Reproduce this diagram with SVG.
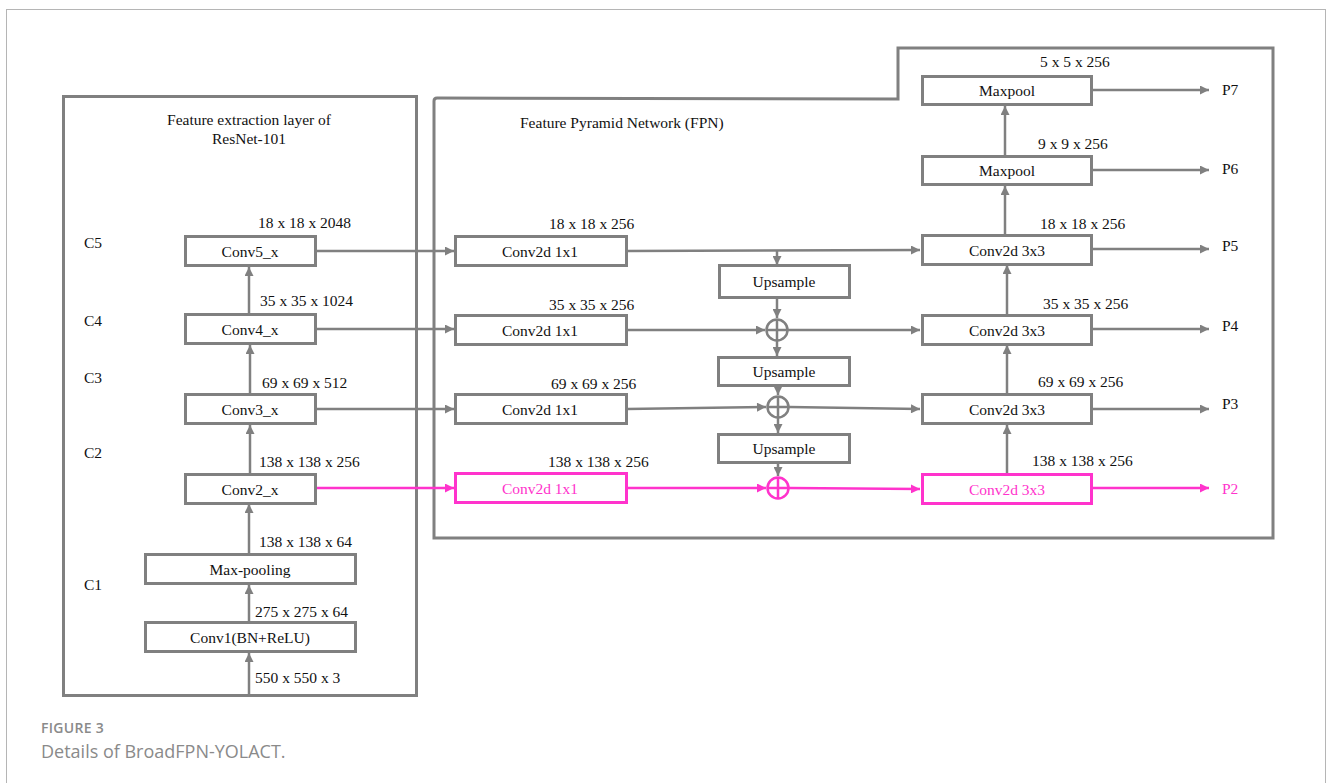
<svg xmlns="http://www.w3.org/2000/svg" width="1330" height="783" viewBox="0 0 1330 783">
<defs>
<style>
.t{font-family:"Liberation Serif","Times New Roman",serif;font-size:15.5px;fill:#111}
.c{text-anchor:middle}
.pk{fill:#ff33cc}
.box{fill:#fff;stroke:#808080;stroke-width:3}
.pbox{fill:#fff;stroke:#ff33cc;stroke-width:3}
.ln{fill:none;stroke:#808080;stroke-width:2.5}
.pln{fill:none;stroke:#ff33cc;stroke-width:2.5}
.cap{font-family:"Open Sans","Noto Sans",sans-serif;fill:#8a8a8a}
</style>
<marker id="ag" viewBox="0 0 10 10" refX="10" refY="5" markerWidth="10" markerHeight="9" markerUnits="userSpaceOnUse" orient="auto"><path d="M0,0 L10,5 L0,10 Z" fill="#808080"/></marker>
<marker id="ap" viewBox="0 0 10 10" refX="10" refY="5" markerWidth="10" markerHeight="9" markerUnits="userSpaceOnUse" orient="auto"><path d="M0,0 L10,5 L0,10 Z" fill="#ff33cc"/></marker>
</defs>
<rect x="0" y="0" width="1330" height="783" fill="#fff"/>
<rect x="6.5" y="9.5" width="1319" height="790" fill="none" stroke="#b5b5b5" stroke-width="1"/>

<g id="resnet-frame">
<rect x="63.5" y="96.5" width="353" height="599" fill="none" stroke="#808080" stroke-width="3"/>
<text class="t c" x="249" y="125">Feature extraction layer of</text>
<text class="t c" x="249" y="144">ResNet-101</text>
<text class="t" x="84" y="248">C5</text>
<text class="t" x="84" y="326">C4</text>
<text class="t" x="84" y="383">C3</text>
<text class="t" x="84" y="458">C2</text>
<text class="t" x="84" y="590">C1</text>
</g>

<g id="fpn-frame">
<path d="M434,538 L434,101 Q434,98 437,98 L898,99 L898,48 L1273,48 L1273,538 Z" fill="none" stroke="#808080" stroke-width="3"/>
<text class="t" x="520" y="128">Feature Pyramid Network (FPN)</text>
</g>

<g id="connectors">
<line class="ln" x1="249" y1="695" x2="249" y2="653" marker-end="url(#ag)"/>
<line class="ln" x1="249" y1="622" x2="249" y2="585" marker-end="url(#ag)"/>
<line class="ln" x1="249" y1="554" x2="249" y2="504" marker-end="url(#ag)"/>
<line class="ln" x1="250" y1="474" x2="250" y2="425" marker-end="url(#ag)"/>
<line class="ln" x1="250" y1="394" x2="250" y2="345" marker-end="url(#ag)"/>
<line class="ln" x1="249" y1="314" x2="249" y2="267" marker-end="url(#ag)"/>
<line class="ln" x1="316" y1="251" x2="454" y2="251" marker-end="url(#ag)"/>
<line class="ln" x1="316" y1="329" x2="454" y2="329" marker-end="url(#ag)"/>
<line class="ln" x1="316" y1="409" x2="454" y2="409" marker-end="url(#ag)"/>
<line class="pln" x1="316" y1="488" x2="454" y2="488" marker-end="url(#ap)"/>
<line class="ln" x1="627" y1="251" x2="920" y2="250" marker-end="url(#ag)"/>
<line class="ln" x1="777" y1="251" x2="777" y2="265" marker-end="url(#ag)"/>
<line class="ln" x1="777" y1="298" x2="777" y2="318" marker-end="url(#ag)"/>
<line class="ln" x1="777" y1="341" x2="777" y2="356" marker-end="url(#ag)"/>
<line class="ln" x1="778" y1="385" x2="778" y2="395" marker-end="url(#ag)"/>
<line class="ln" x1="778" y1="418" x2="778" y2="433" marker-end="url(#ag)"/>
<line class="ln" x1="778" y1="463" x2="778" y2="476" marker-end="url(#ag)"/>
<line class="ln" x1="627" y1="330" x2="765" y2="330" marker-end="url(#ag)"/>
<line class="ln" x1="627" y1="409" x2="766" y2="407" marker-end="url(#ag)"/>
<line class="pln" x1="627" y1="488" x2="766" y2="488" marker-end="url(#ap)"/>
<line class="ln" x1="788" y1="330" x2="920" y2="330" marker-end="url(#ag)"/>
<line class="ln" x1="789" y1="407" x2="920" y2="409" marker-end="url(#ag)"/>
<line class="pln" x1="789" y1="488" x2="920" y2="489" marker-end="url(#ap)"/>
<line class="ln" x1="1007" y1="474" x2="1007" y2="425" marker-end="url(#ag)"/>
<line class="ln" x1="1007" y1="394" x2="1007" y2="345" marker-end="url(#ag)"/>
<line class="ln" x1="1007" y1="315" x2="1007" y2="265" marker-end="url(#ag)"/>
<line class="ln" x1="1005" y1="235" x2="1005" y2="186" marker-end="url(#ag)"/>
<line class="ln" x1="1005" y1="156" x2="1005" y2="106" marker-end="url(#ag)"/>
<line class="ln" x1="1092" y1="90" x2="1209" y2="90" marker-end="url(#ag)"/>
<line class="ln" x1="1092" y1="170" x2="1209" y2="170" marker-end="url(#ag)"/>
<line class="ln" x1="1092" y1="249" x2="1209" y2="249" marker-end="url(#ag)"/>
<line class="ln" x1="1092" y1="329" x2="1209" y2="329" marker-end="url(#ag)"/>
<line class="ln" x1="1092" y1="409" x2="1209" y2="409" marker-end="url(#ag)"/>
<line class="pln" x1="1092" y1="488" x2="1209" y2="488" marker-end="url(#ap)"/>
</g>

<g id="conv5">
<rect class="box" x="185.5" y="236.5" width="130" height="29"/>
<text class="t c" x="250" y="257">Conv5_x</text>
<text class="t" x="258" y="228">18 x 18 x 2048</text>
</g>
<g id="conv4">
<rect class="box" x="185.5" y="314.5" width="130" height="29"/>
<text class="t c" x="250" y="335">Conv4_x</text>
<text class="t" x="260" y="306">35 x 35 x 1024</text>
</g>
<g id="conv3">
<rect class="box" x="185.5" y="394.5" width="130" height="29"/>
<text class="t c" x="250" y="415">Conv3_x</text>
<text class="t" x="262" y="388">69 x 69 x 512</text>
</g>
<g id="conv2">
<rect class="box" x="185.5" y="474.5" width="130" height="29"/>
<text class="t c" x="250" y="495">Conv2_x</text>
<text class="t" x="259" y="467">138 x 138 x 256</text>
</g>
<g id="maxpooling">
<rect class="box" x="145.5" y="554.5" width="210" height="29"/>
<text class="t c" x="250" y="575">Max-pooling</text>
<text class="t" x="259" y="547">138 x 138 x 64</text>
</g>
<g id="conv1">
<rect class="box" x="145.5" y="622.5" width="210" height="29"/>
<text class="t c" x="250" y="643">Conv1(BN+ReLU)</text>
<text class="t" x="255" y="617">275 x 275 x 64</text>
<text class="t" x="255" y="683">550 x 550 x 3</text>
</g>

<g id="lat5">
<rect class="box" x="455.5" y="236.5" width="171" height="29"/>
<text class="t c" x="540" y="257">Conv2d 1x1</text>
<text class="t" x="549" y="229">18 x 18 x 256</text>
</g>
<g id="lat4">
<rect class="box" x="455.5" y="315.5" width="171" height="29"/>
<text class="t c" x="540" y="336">Conv2d 1x1</text>
<text class="t" x="549" y="310">35 x 35 x 256</text>
</g>
<g id="lat3">
<rect class="box" x="455.5" y="394.5" width="171" height="29"/>
<text class="t c" x="540" y="415">Conv2d 1x1</text>
<text class="t" x="551" y="389">69 x 69 x 256</text>
</g>
<g id="lat2">
<rect class="pbox" x="455.5" y="473.5" width="171" height="29"/>
<text class="t c pk" x="540" y="494">Conv2d 1x1</text>
<text class="t" x="548" y="467">138 x 138 x 256</text>
</g>

<g id="up1">
<rect class="box" x="719.5" y="265.5" width="130" height="32"/>
<text class="t c" x="784" y="287">Upsample</text>
</g>
<g id="up2">
<rect class="box" x="718.5" y="357.5" width="131" height="28"/>
<text class="t c" x="784" y="377">Upsample</text>
</g>
<g id="up3">
<rect class="box" x="718.5" y="434.5" width="131" height="28"/>
<text class="t c" x="784" y="454">Upsample</text>
</g>

<g id="add1">
<circle cx="777" cy="330" r="10.5" fill="#fff" stroke="#808080" stroke-width="2.5"/>
<path d="M766.5,330 H787.5 M777,319.5 V340.5" stroke="#808080" stroke-width="2.5"/>
</g>
<g id="add2">
<circle cx="778" cy="407" r="10.5" fill="#fff" stroke="#808080" stroke-width="2.5"/>
<path d="M767.5,407 H788.5 M778,396.5 V417.5" stroke="#808080" stroke-width="2.5"/>
</g>
<g id="add3">
<circle cx="778" cy="488" r="10.5" fill="#fff" stroke="#ff33cc" stroke-width="2.5"/>
<path d="M767.5,488 H788.5 M778,477.5 V498.5" stroke="#ff33cc" stroke-width="2.5"/>
</g>

<g id="out5">
<rect class="box" x="922.5" y="235.5" width="169" height="29"/>
<text class="t c" x="1007" y="256">Conv2d 3x3</text>
<text class="t" x="1040" y="229">18 x 18 x 256</text>
</g>
<g id="out4">
<rect class="box" x="922.5" y="315.5" width="169" height="29"/>
<text class="t c" x="1007" y="336">Conv2d 3x3</text>
<text class="t" x="1043" y="309">35 x 35 x 256</text>
</g>
<g id="out3">
<rect class="box" x="922.5" y="394.5" width="169" height="29"/>
<text class="t c" x="1007" y="415">Conv2d 3x3</text>
<text class="t" x="1038" y="387">69 x 69 x 256</text>
</g>
<g id="out2">
<rect class="pbox" x="922.5" y="474.5" width="169" height="29"/>
<text class="t c pk" x="1007" y="495">Conv2d 3x3</text>
<text class="t" x="1032" y="466">138 x 138 x 256</text>
</g>
<g id="maxpool6">
<rect class="box" x="922.5" y="156.5" width="169" height="28"/>
<text class="t c" x="1007" y="176">Maxpool</text>
<text class="t" x="1038" y="149">9 x 9 x 256</text>
</g>
<g id="maxpool7">
<rect class="box" x="922.5" y="76.5" width="169" height="28"/>
<text class="t c" x="1007" y="96">Maxpool</text>
<text class="t" x="1040" y="67">5 x 5 x 256</text>
</g>

<g id="outputs">
<text class="t" x="1222" y="95">P7</text>
<text class="t" x="1222" y="174">P6</text>
<text class="t" x="1222" y="251">P5</text>
<text class="t" x="1222" y="331">P4</text>
<text class="t" x="1222" y="409">P3</text>
<text class="t pk" x="1222" y="494">P2</text>
</g>

<g id="caption">
<text class="cap" x="41" y="733" font-size="14" font-weight="600" letter-spacing="0.3">FIGURE 3</text>
<text class="cap" x="41" y="758" font-size="18">Details of BroadFPN-YOLACT.</text>
</g>
</svg>
